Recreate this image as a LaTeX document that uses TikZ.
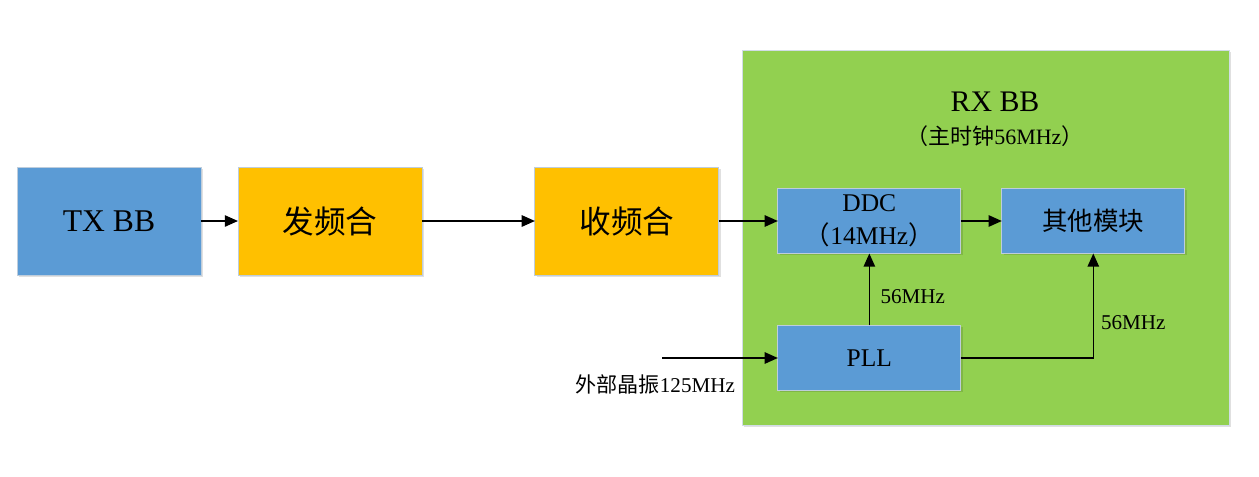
\documentclass[tikz,border=0pt]{standalone}
\usepackage{fontspec}
\setmainfont{Liberation Serif}
\newfontfamily\cjk{Noto Sans CJK SC}
\usetikzlibrary{arrows.meta, positioning, shadows}
\definecolor{bbblue}{RGB}{91,155,213}
\definecolor{rfgold}{RGB}{255,192,0}
\definecolor{rxgreen}{RGB}{146,208,80}
\definecolor{boxline}{RGB}{190,205,220}

\begin{document}
\begin{tikzpicture}[
  x=0.02cm, y=-0.02cm,
  box/.style={draw=boxline, line width=0.5pt, text centered, inner sep=2pt, outer sep=0pt,
    drop shadow={shadow xshift=1pt, shadow yshift=-1pt, opacity=0.12, fill=black}},
  bigbox/.style={box, minimum width=3.68cm, minimum height=2.16cm, font=\fontsize{18}{21}\selectfont},
  bbbox/.style={bigbox, fill=bbblue},
  rfbox/.style={bigbox, fill=rfgold},
  subbox/.style={box, fill=bbblue, minimum width=3.66cm, minimum height=1.30cm,
    font=\fontsize{14.5}{16}\selectfont, align=center},
  container/.style={fill=rxgreen, draw=boxline!70!white, line width=0.5pt, minimum width=9.74cm, minimum height=7.5cm,
    drop shadow={shadow xshift=1pt, shadow yshift=-1pt, opacity=0.12, fill=black}},
  lbl/.style={font=\fontsize{12}{14}\selectfont, inner sep=1pt},
  arr/.style={-{Triangle[length=7.5pt, width=6.5pt]}, line width=0.8pt},
]
\useasboundingbox (0,0) rectangle (1259,477);

% transmit chain
\node[bbbox] (tx) at (109,221) {TX BB};
\node[rfbox, right=0.74cm of tx] (fa) {\cjk 发频合};
\node[rfbox, right=2.26cm of fa] (shou) {\cjk 收频合};

% receive baseband
\node[container] (rx) at (985.5,237.5) {};
\node[font=\fontsize{17}{19}\selectfont] (rxtitle) at (995,102) {RX BB};
\node[font=\fontsize{12.5}{14}\selectfont, below=0.02cm of rxtitle] (rxclk) {{\cjk （主时钟}56MHz{\cjk ）}};

\node[subbox, right=1.18cm of shou] (ddc) {DDC\\[3pt]{\cjk （}14MHz{\cjk ）}};
\node[subbox, right=0.82cm of ddc] (other) {\cjk 其他模块};
\node[subbox, below=1.44cm of ddc] (pll) {PLL};

\coordinate (xin) at (662,358);
\node[lbl, anchor=east] (xlbl) at (737,384) {{\cjk 外部晶振}125MHz};

\draw[arr] (tx) -- (fa);
\draw[arr] (fa) -- (shou);
\draw[arr] (shou) -- (ddc);
\draw[arr] (ddc) -- (other);
\draw[arr] (xin) -- (pll.west |- xin);
\draw[arr] (pll) -- node[lbl, right=5pt, pos=0.4] {56MHz} (ddc);
\draw[arr] (pll.east) -| node[lbl, right=3pt, pos=0.67] {56MHz} (other.south);
\end{tikzpicture}
\end{document}
